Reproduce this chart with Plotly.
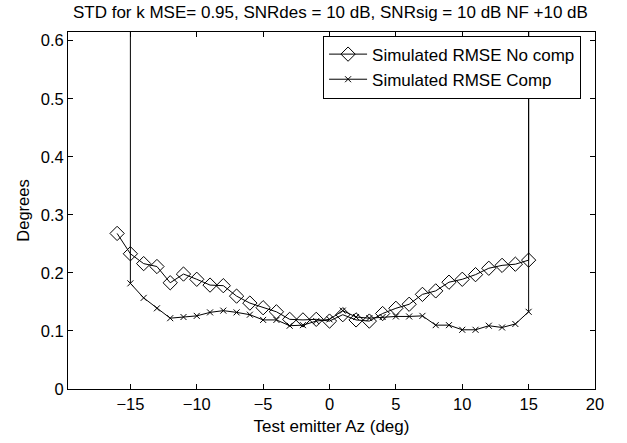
import plotly.graph_objects as go

# Data
az_nocomp = [-16, -15, -14, -13, -12, -11, -10, -9, -8, -7, -6, -5, -4, -3, -2, -1, 0,
             1, 2, 3, 4, 5, 6, 7, 8, 9, 10, 11, 12, 13, 14, 15, 15]
rmse_nocomp = [0.268, 0.233, 0.216, 0.211, 0.183, 0.198, 0.189, 0.179, 0.178, 0.160, 0.148,
               0.140, 0.133, 0.120, 0.119, 0.120, 0.117, 0.128, 0.119, 0.117, 0.130, 0.139,
               0.146, 0.163, 0.169, 0.184, 0.189, 0.197, 0.208, 0.213, 0.215, 0.222, 5.0]

az_comp = [-15, -15, -14, -13, -12, -11, -10, -9, -8, -7, -6, -5, -4, -3, -2, -1, 0,
           1, 2, 3, 4, 5, 6, 7, 8, 9, 10, 11, 12, 13, 14, 15, 15]
rmse_comp = [5.0, 0.182, 0.157, 0.139, 0.122, 0.124, 0.126, 0.132, 0.135, 0.132, 0.128,
             0.119, 0.119, 0.109, 0.110, 0.117, 0.120, 0.135, 0.124, 0.122, 0.124, 0.125,
             0.125, 0.126, 0.110, 0.110, 0.102, 0.102, 0.109, 0.106, 0.112, 0.133, 5.0]

x_ticks = [-15, -10, -5, 0, 5, 10, 15, 20]
y_ticks = [0, 0.1, 0.2, 0.3, 0.4, 0.5, 0.6]
y_tick_text = ["0", "0.1", "0.2", "0.3", "0.4", "0.5", "0.6"]

title_text = "STD for k MSE= 0.95, SNRdes = 10 dB, SNRsig = 10 dB NF +10 dB"

FONT = "Liberation Sans, Arial"
FS = 16.5

fig = go.Figure()
fig.add_trace(go.Scatter(
    x=az_nocomp, y=rmse_nocomp, mode="lines+markers",
    name="Simulated RMSE No comp",
    line=dict(color="black", width=1),
    marker=dict(symbol="diamond-open", size=11, color="black", line=dict(width=1, color="black")),
))
fig.add_trace(go.Scatter(
    x=az_comp, y=rmse_comp, mode="lines+markers",
    name="Simulated RMSE Comp",
    line=dict(color="black", width=1),
    marker=dict(symbol="x-thin-open", size=6, color="black", line=dict(width=1, color="black")),
))

axis_common = dict(
    showline=True, linecolor="black", linewidth=1, mirror="ticks",
    ticks="inside", ticklen=5, tickcolor="black", tickwidth=1,
    showgrid=False, zeroline=False, automargin=False,
    tickfont=dict(family=FONT, size=FS, color="black"),
)

fig.update_layout(
    width=627, height=443,
    margin=dict(l=68, r=32, t=32, b=54),
    paper_bgcolor="white", plot_bgcolor="white",
    font=dict(family=FONT, size=FS, color="black"),
    title=dict(text=title_text, x=0.527, xanchor="center", y=0.972, yanchor="middle",
               font=dict(family=FONT, size=17, color="black")),
    xaxis=dict(range=[-19.7, 20], tickvals=x_ticks,
               title=dict(text="Test emitter Az (deg)", standoff=8,
                          font=dict(family=FONT, size=17, color="black")),
               **axis_common),
    yaxis=dict(range=[0, 0.615], tickvals=y_ticks, ticktext=y_tick_text,
               title=dict(text="Degrees", standoff=6,
                          font=dict(family=FONT, size=FS, color="black")),
               **axis_common),
    legend=dict(x=0.484, xanchor="left", y=0.99, yanchor="top",
                bgcolor="white", bordercolor="black", borderwidth=1, itemwidth=38,
                font=dict(family=FONT, size=17, color="black"), tracegroupgap=0),
    showlegend=True,
)

fig.write_html("out.html")
